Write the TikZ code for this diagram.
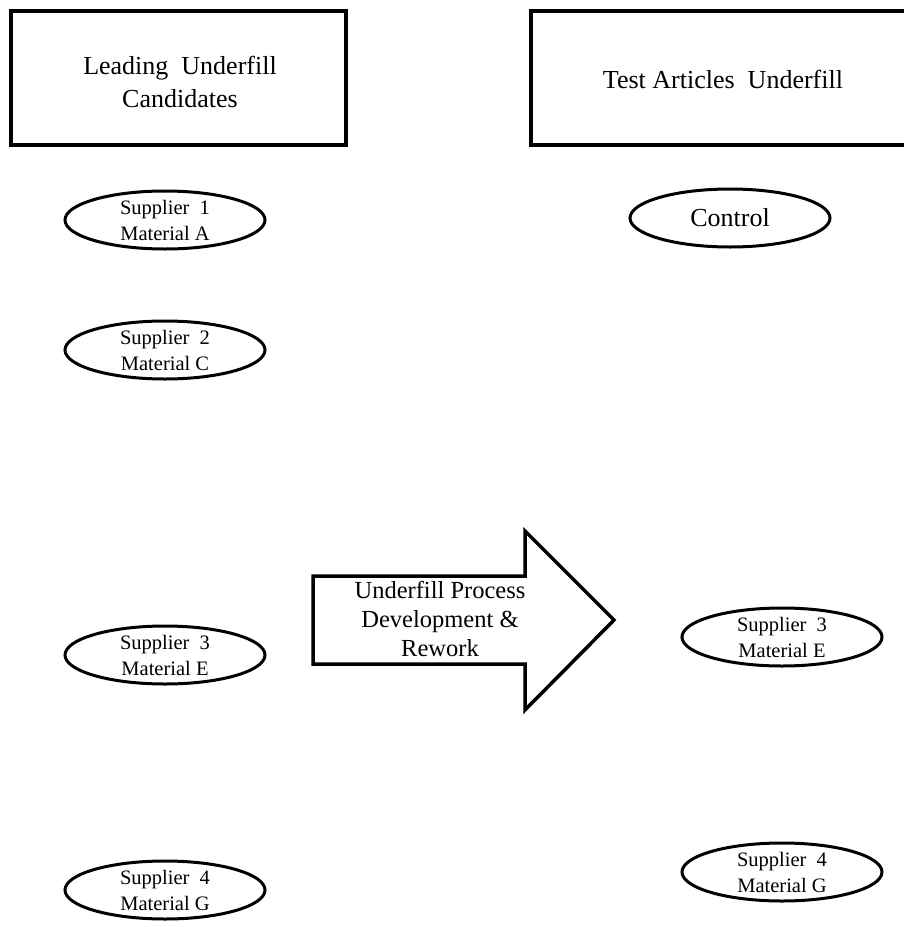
\documentclass[tikz,border=0pt]{standalone}
\usepackage{fontspec}
\setmainfont{Liberation Serif}
\usetikzlibrary{shapes.geometric}
\begin{document}
\begin{tikzpicture}[x=1pt,y=-1pt,
  boxline/.style={draw=black,line width=3.5pt},
  sup/.style={draw=black,line width=3pt,ellipse,minimum width=200pt,minimum height=58pt,inner sep=0pt,align=center,font=\fontsize{20.5}{26}\selectfont},
  boxtext/.style={align=center,font=\fontsize{26}{33}\selectfont},
  arrowtext/.style={align=center,font=\fontsize{24.5}{29}\selectfont}]
\useasboundingbox (0,0) rectangle (904,927);
\clip (0,0) rectangle (904,927);
% boxes
\draw[boxline] (11,11) rectangle (346,145);
\node[boxtext] (lead) at (180,82) {Leading\ \ Underfill\\Candidates};
\draw[boxline] (531,11) rectangle (915,145);
\node[boxtext] (test) at (723,79) {Test Articles\ \ Underfill};
% ellipses left
\node[sup] (s1) at (165,220) {Supplier\ \ 1\\Material A};
\node[sup] (s2) at (165,350) {Supplier\ \ 2\\Material C};
\node[sup] (s3l) at (165,655) {Supplier\ \ 3\\Material E};
\node[sup] (s4l) at (165,890) {Supplier\ \ 4\\Material G};
% ellipses right
\node[sup,font=\fontsize{26}{30}\selectfont] (ctrl) at (730,218) {Control};
\node[sup] (s3r) at (782,637) {Supplier\ \ 3\\Material E};
\node[sup] (s4r) at (782,872) {Supplier\ \ 4\\Material G};
% block arrow
\draw[boxline,line join=miter] (313,576) -- (525,576) -- (525,531) -- (614,620) -- (525,710) -- (525,664) -- (313,664) -- cycle;
\node[arrowtext] (proc) at (440,619) {Underfill Process\\Development \&\\Rework};
\end{tikzpicture}
\end{document}
